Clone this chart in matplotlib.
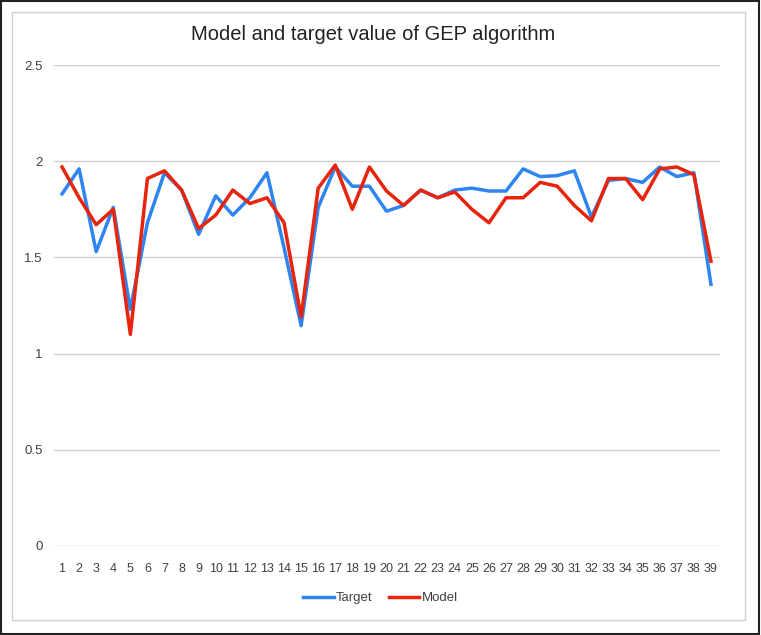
import matplotlib.pyplot as plt
from matplotlib.patches import Rectangle
from matplotlib.ticker import FuncFormatter

# sample index 1..39
idx = list(range(1, 40))
target = [1.83, 1.96, 1.53, 1.76, 1.23, 1.68, 1.94, 1.85, 1.62, 1.82,
          1.72, 1.81, 1.94, 1.55, 1.145, 1.76, 1.97, 1.87, 1.87, 1.74,
          1.77, 1.85, 1.81, 1.85, 1.86, 1.845, 1.845, 1.96, 1.92, 1.925,
          1.95, 1.71, 1.90, 1.91, 1.89, 1.97, 1.92, 1.94, 1.36]
model = [1.97, 1.81, 1.67, 1.75, 1.10, 1.91, 1.95, 1.85, 1.65, 1.72,
         1.85, 1.78, 1.81, 1.68, 1.19, 1.86, 1.98, 1.75, 1.97, 1.845,
         1.77, 1.85, 1.81, 1.84, 1.75, 1.68, 1.81, 1.81, 1.89, 1.87,
         1.77, 1.69, 1.91, 1.91, 1.80, 1.96, 1.97, 1.93, 1.48]
yticks = [0, 0.5, 1, 1.5, 2, 2.5]

plt.rcParams['font.family'] = ['Liberation Sans', 'DejaVu Sans']
txt = '#404040'

fig = plt.figure(figsize=(7.61, 6.35), dpi=100)
# outer black frame and inner grey chart border
fig.patches.append(Rectangle((0.001, 0.001), 0.997, 0.997, transform=fig.transFigure,
                             fill=False, edgecolor='#222222', linewidth=1.5))
fig.patches.append(Rectangle((12 / 761, 1 - 620 / 635), 733 / 761, 608 / 635,
                             transform=fig.transFigure, fill=False,
                             edgecolor='#D0D0D0', linewidth=1))

ax = fig.add_axes([53.5 / 761, 1 - 546 / 635, 666 / 761, 481 / 635])
ax.plot(idx, target, color='#2F85F0', lw=2.5, label='Target')
ax.plot(idx, model, color='#E8240C', lw=2.5, label='Model')

ax.set_xlim(0.5, 39.5)
ax.set_ylim(0, 2.5)
ax.set_xticks(idx)
ax.set_yticks(yticks)
ax.yaxis.set_major_formatter(FuncFormatter(lambda v, p: f'{v:g}'))
ax.grid(axis='y', color='#D0D0D0', lw=1)
ax.set_axisbelow(True)
for s in ax.spines.values():
    s.set_visible(False)
ax.tick_params(length=0, labelsize=9.5, colors=txt)
ax.tick_params(axis='x', pad=12, labelsize=9)
ax.tick_params(axis='y', pad=8)

fig.text(373.5 / 761, 1 - 35 / 635, 'Model and target value of GEP algorithm',
         ha='center', va='center', fontsize=14.5, color='#222222')
fig.legend(loc='center', bbox_to_anchor=(0.5, 1 - 598 / 635), ncol=2, frameon=False,
           fontsize=9.5, handlelength=2.3, handletextpad=0.2, columnspacing=1.2,
           labelcolor=txt)

fig.savefig('out.png', dpi=100)
